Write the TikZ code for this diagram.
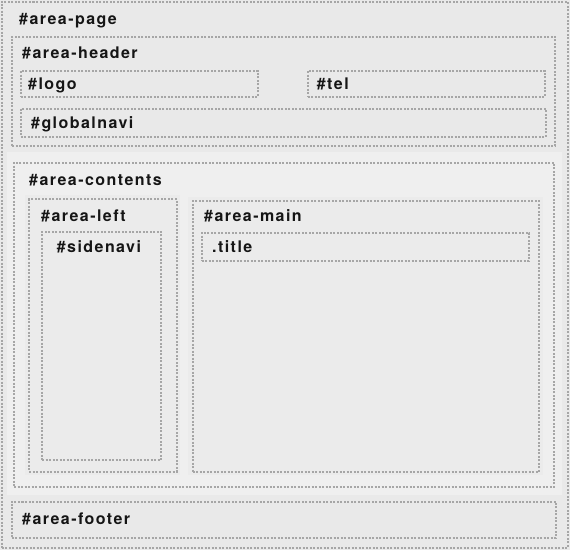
\documentclass[tikz,border=0pt]{standalone}
\usepackage{fontspec}
\newfontfamily\lblfont[LetterSpace=9]{TeX Gyre Heros}
\definecolor{pagegray}{HTML}{E9E9E9}
\definecolor{litegray}{HTML}{EFEFEF}
\definecolor{boxgray}{HTML}{EBEBEB}
\definecolor{dotgray}{HTML}{A6A6A6}
\definecolor{inkgray}{HTML}{151515}
\tikzset{
  area/.style={draw=dotgray, line width=2pt, dash pattern=on 2pt off 1.5pt,
    inner sep=0pt, outer sep=0pt, anchor=north west},
  lbl/.style={anchor=base west, inner sep=0pt, text=inkgray,
    font=\lblfont\fontsize{16}{19}\selectfont\bfseries}
}
\begin{document}
\begin{tikzpicture}[x=1pt,y=-1pt]
  \useasboundingbox (0,0) rectangle (570,550);
  \fill[pagegray] (0,0) rectangle (570,550);
  \fill[litegray] (7,152) rectangle (562,495);
  \fill[boxgray] (25,195) rectangle (180,475);
  \fill[boxgray] (188,197) rectangle (543,475);
  % boxes
  \draw
    (1.5,1.5) node[area, minimum width=566pt, minimum height=546pt] (page){}
    (12,36.5) node[area, minimum width=543pt, minimum height=109pt] (header){}
    (20.5,70.5) node[area, minimum width=237pt, minimum height=26pt] (logo){}
    (307.5,70.5) node[area, minimum width=237pt, minimum height=26pt] (tel){}
    (20.5,108.5) node[area, minimum width=525pt, minimum height=28pt] (globalnavi){}
    (14,162.5) node[area, minimum width=540pt, minimum height=324pt] (contents){}
    (29,199) node[area, minimum width=147.5pt, minimum height=272.5pt] (left){}
    (42,231.5) node[area, minimum width=119pt, minimum height=228.5pt] (sidenavi){}
    (192.5,201) node[area, minimum width=346.5pt, minimum height=270.5pt] (main){}
    (201.5,232.5) node[area, minimum width=327.5pt, minimum height=28pt] (title){}
    (11.5,501.5) node[area, minimum width=544.5pt, minimum height=36pt] (footer){};
  % labels
  \node[lbl] (pagelbl) at (19,24) {\#area-page};
  \node[lbl] (headerlbl) at (22,58.3) {\#area-header};
  \node[lbl] (logolbl) at (28,89.3) {\#logo};
  \node[lbl] (tellbl) at (316.7,89.3) {\#tel};
  \node[lbl] (globalnavilbl) at (31,128.3) {\#globalnavi};
  \node[lbl] (contentslbl) at (29,185) {\#area-contents};
  \node[lbl] (leftlbl) at (41,221) {\#area-left};
  \node[lbl] (sidenavilbl) at (56.7,252.7) {\#sidenavi};
  \node[lbl] (mainlbl) at (204,221) {\#area-main};
  \node[lbl] (titlelbl) at (212,252.7) {.title};
  \node[lbl] (footerlbl) at (22,524.3) {\#area-footer};
\end{tikzpicture}
\end{document}
